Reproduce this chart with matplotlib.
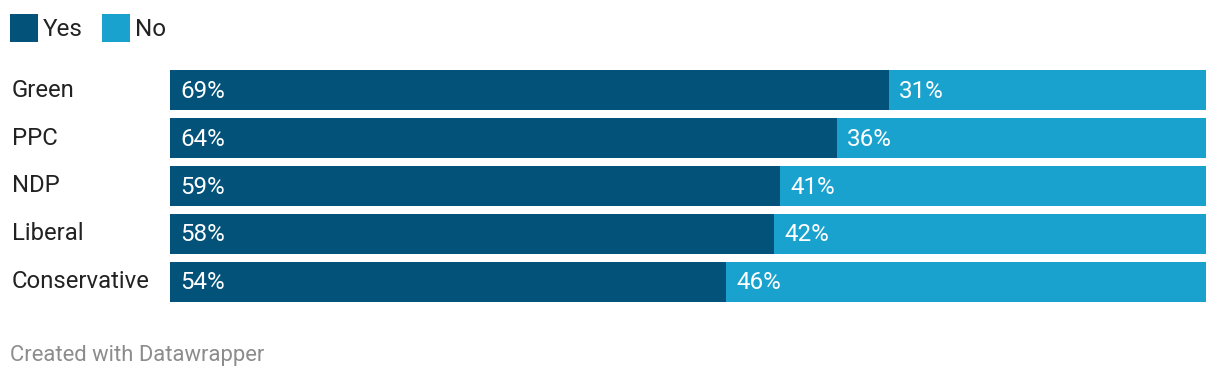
import matplotlib.pyplot as plt
from matplotlib.patches import Rectangle

# data
parties = ["Green", "PPC", "NDP", "Liberal", "Conservative"]
yes = [69.4, 64.4, 58.9, 58.3, 53.7]
no = [30.6, 35.6, 41.3, 41.7, 46.3]
series = ["Yes", "No"]

dark = "#02527a"
light = "#1aa2cf"
plt.rcParams["font.family"] = ["Roboto", "DejaVu Sans"]

W, H = 1220, 378
fig = plt.figure(figsize=(W / 100, H / 100), dpi=100)
fig.patch.set_facecolor("white")

# axes placed in pixels: bars from x=170 to 1206, y=70 to 302
ax = fig.add_axes([170 / W, (H - 302) / H, 1036 / W, 232 / H])
ax.set_xlim(0, 100)
ax.set_ylim(len(parties) - 1 + 0.4167, -0.4167)
ax.axis("off")

ypos = list(range(len(parties)))
ax.barh(ypos, yes, height=0.8333, color=dark, linewidth=0)
ax.barh(ypos, no, left=yes, height=0.8333, color=light, linewidth=0)

for i, p in enumerate(parties):
    ax.annotate(p, xy=(12, i), xycoords=("figure pixels", "data"),
                ha="left", va="center", fontsize=17.2, color="#222222")
    ax.annotate(f"{yes[i]:.0f}%", xy=(0, i), xytext=(10, -1),
                textcoords="offset pixels", ha="left", va="center",
                fontsize=17.4, color="white")
    ax.annotate(f"{no[i]:.0f}%", xy=(yes[i], i), xytext=(10, -1),
                textcoords="offset pixels", ha="left", va="center",
                fontsize=17.4, color="white")

# legend
for (x0, lab, col) in [(10, series[0], dark), (102, series[1], light)]:
    fig.patches.append(Rectangle((x0 / W, (H - 42) / H), 28 / W, 28 / H,
                                 transform=fig.transFigure, color=col, lw=0))
    fig.text((x0 + 33) / W, (H - 29.5) / H, lab, ha="left", va="center",
             fontsize=17.5, color="#222222")

fig.text(10 / W, (H - 355) / H, "Created with Datawrapper", ha="left",
         va="center", fontsize=15.8, color="#8c8c8c")

fig.savefig("out.png", dpi=100)
